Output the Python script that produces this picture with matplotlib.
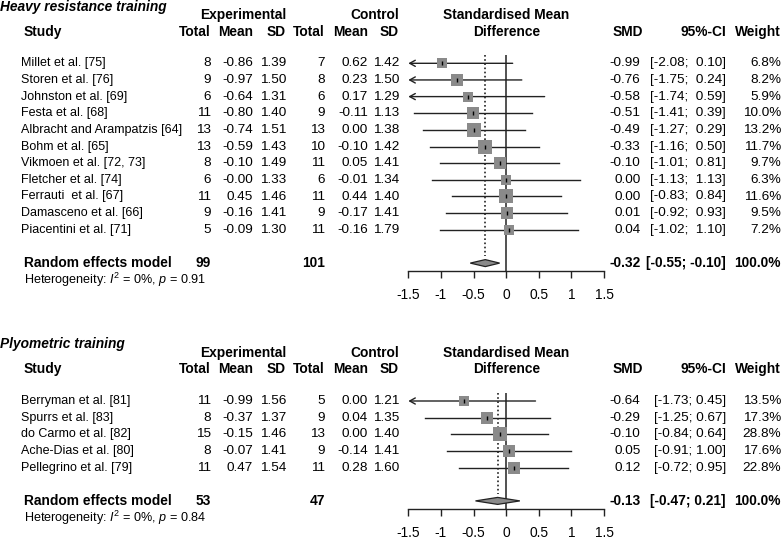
import matplotlib
matplotlib.use("Agg")
import matplotlib.pyplot as plt
import matplotlib.transforms as mtransforms
from matplotlib.patches import Polygon
import numpy as np

plt.rcParams['font.family'] = ['Liberation Sans', 'DejaVu Sans']
plt.rcParams['mathtext.fontset'] = 'custom'
plt.rcParams['mathtext.rm'] = 'Liberation Sans'
plt.rcParams['mathtext.it'] = 'Liberation Sans:italic'

# --- Heavy resistance training ---
names1 = ['Millet et al. [75]', 'Storen et al. [76]', 'Johnston et al. [69]',
          'Festa et al. [68]', 'Albracht and Arampatzis [64]', 'Bohm et al. [65]',
          'Vikmoen et al. [72, 73]', 'Fletcher et al. [74]', 'Ferrauti  et al. [67]',
          'Damasceno et al. [66]', 'Piacentini et al. [71]']
exp_n1 = [8, 9, 6, 11, 13, 13, 8, 6, 11, 9, 5]
exp_mean1 = [-0.86, -0.97, -0.64, -0.80, -0.74, -0.59, -0.10, -0.0, 0.45, -0.16, -0.09]
exp_sd1 = [1.39, 1.50, 1.31, 1.40, 1.51, 1.43, 1.49, 1.33, 1.46, 1.41, 1.30]
ctl_n1 = [7, 8, 6, 9, 13, 10, 11, 6, 11, 9, 11]
ctl_mean1 = [0.62, 0.23, 0.17, -0.11, 0.00, -0.10, 0.05, -0.01, 0.44, -0.17, -0.16]
ctl_sd1 = [1.42, 1.50, 1.29, 1.13, 1.38, 1.42, 1.41, 1.34, 1.40, 1.41, 1.79]
smd1 = [-0.99, -0.76, -0.58, -0.51, -0.49, -0.33, -0.10, 0.00, 0.00, 0.01, 0.04]
lo1 = [-2.08, -1.75, -1.74, -1.41, -1.27, -1.16, -1.01, -1.13, -0.83, -0.92, -1.02]
hi1 = [0.10, 0.24, 0.59, 0.39, 0.29, 0.50, 0.81, 1.13, 0.84, 0.93, 1.10]
w1 = [6.8, 8.2, 5.9, 10.0, 13.2, 11.7, 9.7, 6.3, 11.6, 9.5, 7.2]
pooled1 = [-0.32, -0.55, -0.10]
totals1 = [99, 101]
het1 = '0.91'

# --- Plyometric training ---
names2 = ['Berryman et al. [81]', 'Spurrs et al. [83]', 'do Carmo et al. [82]',
          'Ache-Dias et al. [80]', 'Pellegrino et al. [79]']
exp_n2 = [11, 8, 15, 8, 11]
exp_mean2 = [-0.99, -0.37, -0.15, -0.07, 0.47]
exp_sd2 = [1.56, 1.37, 1.46, 1.41, 1.54]
ctl_n2 = [5, 9, 13, 9, 11]
ctl_mean2 = [0.00, 0.04, 0.00, -0.14, 0.28]
ctl_sd2 = [1.21, 1.35, 1.40, 1.41, 1.60]
smd2 = [-0.64, -0.29, -0.10, 0.05, 0.12]
lo2 = [-1.73, -1.25, -0.84, -0.91, -0.72]
hi2 = [0.45, 0.67, 0.64, 1.00, 0.95]
w2 = [13.5, 17.3, 28.8, 17.6, 22.8]
pooled2 = [-0.13, -0.47, 0.21]
totals2 = [53, 47]
het2 = '0.84'

xticks = [-1.5, -1, -0.5, 0, 0.5, 1, 1.5]
xticklabels = ['-1.5', '-1', '-0.5', '0', '0.5', '1', '1.5']

W, H = 783, 540
FS = 9.0      # study names
FN = 9.7      # numbers
FB = 9.9      # bold headings
ROW = 16.65
fig = plt.figure(figsize=(W / 100, H / 100), dpi=100)
fig.patch.set_facecolor('white')


def fx(px):
    return px / W


def panel(title, first_row_px, names, en, em, esd, cn, cm, csd, smd, lo, hi, w, pooled, totals, het):
    n = len(names)
    d_row = n + 1
    bottom_row = d_row + 0.5
    top_px = first_row_px - 0.5 * ROW
    bot_px = first_row_px + bottom_row * ROW
    ax = fig.add_axes([fx(408.3), 1 - bot_px / H, fx(604 - 408.3), (bot_px - top_px) / H])
    ax.set_xlim(-1.5, 1.5)
    ax.set_ylim(bottom_row, -0.5)
    ax.patch.set_alpha(0)
    for s in ['top', 'left', 'right']:
        ax.spines[s].set_visible(False)
    ax.spines['bottom'].set_linewidth(1.0)
    ax.spines['bottom'].set_color('#222222')
    ax.spines['bottom'].set_bounds(-1.5, 1.5)
    ax.set_yticks([])
    ax.set_xticks(xticks)
    ax.set_xticklabels(xticklabels, fontsize=FB)
    ax.tick_params(axis='x', direction='out', length=5.2, width=1.0, pad=7.0, color='#222222')

    ys = np.arange(n)
    ax.axvline(0, color='#222222', lw=1.1, zorder=1)
    ax.plot([pooled[0], pooled[0]], [-0.5, d_row - 0.4], color='#222222', lw=1.2,
            ls=(0, (1, 1.5)), zorder=1)

    for i in range(n):
        if lo[i] < -1.5:
            ax.annotate('', xy=(-1.5, ys[i]), xytext=(hi[i], ys[i]),
                        arrowprops=dict(arrowstyle='->,head_length=0.4,head_width=0.22',
                                        color='#222222', lw=1.0, shrinkA=0, shrinkB=0),
                        annotation_clip=False)
        else:
            ax.plot([lo[i], hi[i]], [ys[i], ys[i]], color='#222222', lw=1.0, zorder=2)
    wmax = max(w)
    for i in range(n):
        side = 14.5 * np.sqrt(w[i] / wmax) * 0.72
        ax.plot(smd[i], ys[i], marker='s', ms=side, color='#8a8a8a', mec='#8a8a8a',
                mew=0, zorder=3, clip_on=False)
    ax.plot(smd, ys, ls='none', marker='|', ms=3.5, mew=1.0, color='black', zorder=4)

    hh = 0.21
    dia = Polygon([[pooled[1], d_row], [pooled[0], d_row - hh], [pooled[2], d_row],
                   [pooled[0], d_row + hh]], closed=True, facecolor='#8a8a8a',
                  edgecolor='#222222', lw=0.9, zorder=3)
    ax.add_patch(dia)

    tr = mtransforms.blended_transform_factory(fig.transFigure, ax.transData)

    def t(xp, y, s, ha='right', fs=FN, **kw):
        fig.text(fx(xp), y, s, ha=ha, va='center', transform=tr, fontsize=fs, **kw)

    t(0, -3.4, title, ha='left', fs=FB, fontweight='bold', fontstyle='italic')
    t(286, -2.9, 'Experimental', fs=FB, fontweight='bold')
    t(399, -2.9, 'Control', fs=FB, fontweight='bold')
    t(506.5, -2.9, 'Standardised Mean', ha='center', fs=FB, fontweight='bold')
    t(24, -1.9, 'Study', ha='left', fs=FB, fontweight='bold')
    for xp, s in [(211, 'Total'), (253, 'Mean'), (286, 'SD'), (325, 'Total'),
                  (368, 'Mean'), (399, 'SD'), (643, 'SMD'), (726, '95%-CI'),
                  (781, 'Weight')]:
        t(xp, -1.9, s, fs=FB, fontweight='bold')
    t(506.5, -1.9, 'Difference', ha='center', fs=FB, fontweight='bold')

    hw = max(len(f'{v:.2f}') for v in hi + [pooled[2]])
    for i in range(n):
        t(21.3, ys[i], names[i], ha='left', fs=FS)
        t(211, ys[i], f'{en[i]}')
        t(253, ys[i], f'{em[i]:.2f}')
        t(286, ys[i], f'{esd[i]:.2f}')
        t(325, ys[i], f'{cn[i]}')
        t(368, ys[i], f'{cm[i]:.2f}')
        t(399, ys[i], f'{csd[i]:.2f}')
        t(640.5, ys[i], f'{smd[i]:.2f}')
        hs = f'{hi[i]:.2f}'.rjust(hw)
        t(726, ys[i], f'[{lo[i]:.2f}; {hs}]')
        t(781, ys[i], f'{w[i]:.1f}%')

    t(24, d_row, 'Random effects model', ha='left', fs=FB, fontweight='bold')
    t(211, d_row, f'{totals[0]}', fs=FB, fontweight='bold')
    t(325, d_row, f'{totals[1]}', fs=FB, fontweight='bold')
    t(640.5, d_row, f'{pooled[0]:.2f}', fs=FB, fontweight='bold')
    t(726, d_row, f'[{pooled[1]:.2f}; {pooled[2]:.2f}]', fs=FB, fontweight='bold')
    t(781, d_row, '100.0%', fs=FB, fontweight='bold')
    t(24, d_row + 1.0, r'Heterogeneity: $I^2$ = 0%, $p$ = ' + het, ha='left', fs=9.1)
    return ax


panel('Heavy resistance training', 63.3, names1, exp_n1, exp_mean1, exp_sd1,
      ctl_n1, ctl_mean1, ctl_sd1, smd1, lo1, hi1, w1, pooled1, totals1, het1)
panel('Plyometric training', 401.0, names2, exp_n2, exp_mean2, exp_sd2,
      ctl_n2, ctl_mean2, ctl_sd2, smd2, lo2, hi2, w2, pooled2, totals2, het2)

fig.savefig('out.png', dpi=100, facecolor='white')
